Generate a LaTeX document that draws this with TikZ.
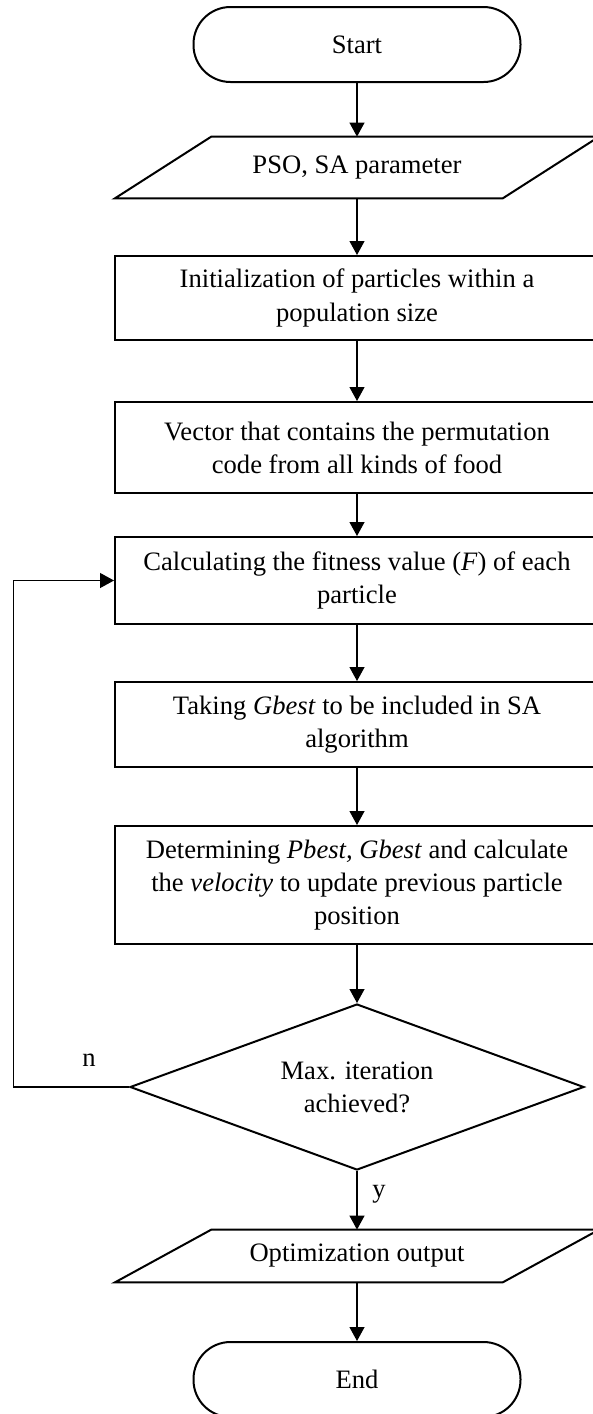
\documentclass[tikz,border=0pt]{standalone}
\usepackage{fontspec}
\setmainfont{Liberation Serif}
\usetikzlibrary{arrows.meta,shapes.geometric}
\begin{document}
\begin{tikzpicture}[x=0.5pt,y=-0.5pt,
  every node/.style={font=\fontsize{13.3pt}{16.6pt}\selectfont},
  proc/.style={draw, line width=1pt, rectangle, minimum width=242pt, align=center, inner sep=0pt},
  term/.style={draw, line width=1pt, rectangle, rounded corners=18.5pt, minimum width=163.5pt, minimum height=37.5pt, inner sep=0pt},
  iobox/.style={rectangle, minimum width=193.5pt, align=center, inner sep=0pt},
  decis/.style={draw, line width=1pt, diamond, aspect=2.7, minimum width=227pt, minimum height=83pt, inner sep=0pt, align=center},
  boxline/.style={line width=1pt, line join=miter},
  conn/.style={line width=0.6pt, -{Triangle[length=7pt,width=7.5pt]}},
  lbl/.style={anchor=base, inner sep=0pt}]
\useasboundingbox (0,0) rectangle (593,1414);
\clip (0,0) rectangle (593,1414);

\node[term] (start) at (357,44.5) {Start};
\node[iobox, minimum height=30.5pt] (pso) at (357,167.5) {PSO, SA parameter};
\draw[boxline] ([xshift=-24.125pt]pso.south west) -- ([xshift=-24.125pt]pso.south east)
  -- ([xshift=24.125pt]pso.north east) -- ([xshift=24.125pt]pso.north west) -- cycle;
\node[proc, minimum height=42pt] (init) at (357,298) {Initialization of particles within a\\population size};
\node[proc, minimum height=45.5pt] (vec) at (357,447.5) {Vector that contains the permutation\\code from all kinds of food};
\node[proc, minimum height=43.5pt] (calc) at (357,580.5) {Calculating the fitness value (\textit{F}) of each\\particle};
\node[proc, minimum height=42.5pt] (take) at (357,724.5) {Taking \textit{Gbest} to be included in SA\\algorithm};
\node[proc, minimum height=59pt] (det) at (357,885) {Determining \textit{Pbest, Gbest} and calculate\\the \textit{velocity} to update previous particle\\position};
\node[decis] (dec) at (357,1087) {Max. iteration\\achieved?};
\node[iobox, minimum height=26pt] (out) at (357,1256) {Optimization output};
\draw[boxline] ([xshift=-24.125pt]out.south west) -- ([xshift=-24.125pt]out.south east)
  -- ([xshift=24.125pt]out.north east) -- ([xshift=24.125pt]out.north west) -- cycle;
\node[term] (end) at (357,1379.5) {End};

\draw[conn] (start.south) -- (pso.north);
\draw[conn] (pso.south) -- (init.north);
\draw[conn] (init.south) -- (vec.north);
\draw[conn] (vec.south) -- (calc.north);
\draw[conn] (calc.south) -- (take.north);
\draw[conn] (take.south) -- (det.north);
\draw[conn] (det.south) -- (dec.north);
\draw[conn] (dec.south) -- (out.north);
\draw[conn] (out.south) -- (end.north);

\coordinate (lp) at (13.3,1087);
\draw[conn] (dec.west) -- (lp) |- (calc.west);

\node[lbl] (nlab) at (89,1066.7) {n};
\node[lbl] (ylab) at (379,1197) {y};
\end{tikzpicture}
\end{document}
